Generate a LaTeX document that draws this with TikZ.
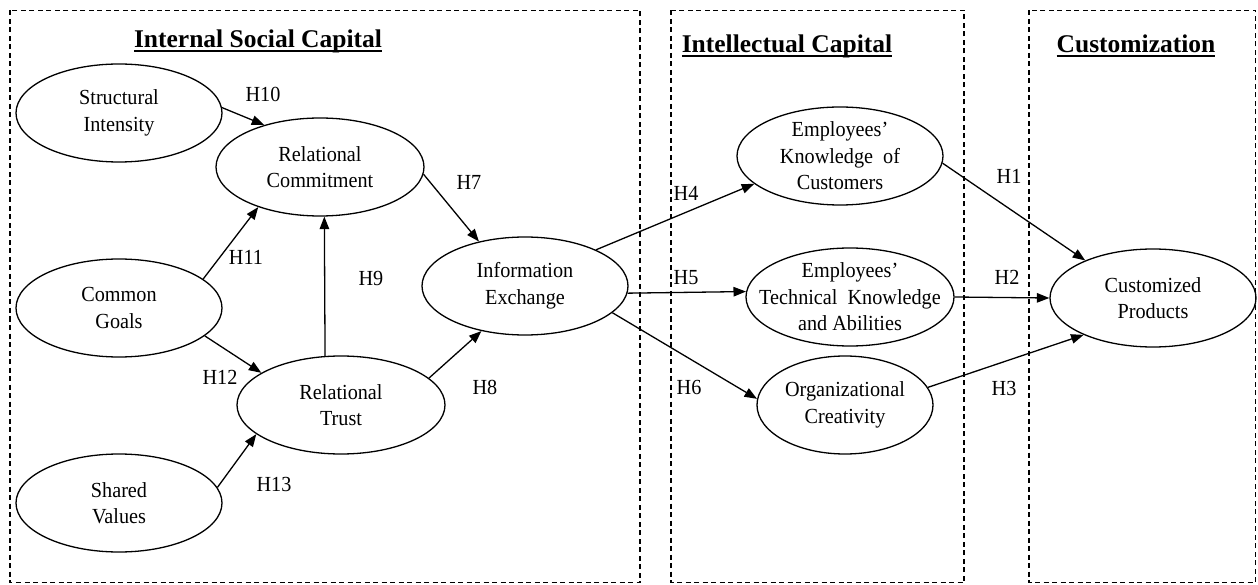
\documentclass[tikz,border=0pt]{standalone}
\usepackage{fontspec}
\setmainfont{Liberation Serif}
\newfontfamily\nf{Liberation Serif}[FakeStretch=0.94]
\usetikzlibrary{shapes.geometric,arrows.meta}
\newcommand\myul[1]{\setbox0\hbox{#1}\copy0\llap{\raisebox{-5pt}{\rule{\wd0}{2.2pt}}}}
\begin{document}
\begin{tikzpicture}[x=1pt,y=-1pt,
  ell/.style={ellipse,draw,line width=1.3pt,inner sep=0pt,minimum width=206pt,minimum height=98pt},
  lbl/.style={font=\nf\fontsize{21.5}{26.5}\selectfont,align=center,inner sep=0pt},
  hyp/.style={font=\nf\fontsize{21.5}{26.5}\selectfont,inner sep=0pt},
  arr/.style={line width=1.3pt,-{Triangle[length=12.5pt,width=9.5pt]}},
  frame/.style={draw,line width=1.2pt,dash pattern=on 5pt off 3.5pt},
  ttl/.style={font=\fontsize{25.5}{30}\selectfont\bfseries,inner sep=0pt}]
\useasboundingbox (0,0) rectangle (1258,585);
% frames
\draw[frame] (10,10.5) rectangle (640,582.5);
\draw[frame] (671,10.5) rectangle (964,582.5);
\draw[frame] (1029,10.5) rectangle (1255.5,582.5);
% titles
\node[ttl] (t1) at (258,41) {\myul{Internal Social Capital}};
\node[ttl] (t2) at (787,46) {\myul{Intellectual Capital}};
\node[ttl] (t3) at (1136,46) {\myul{Customization}};
% constructs
\node[ell,label={[lbl]center:{Structural\\Intensity}}] (si) at (119,113) {};
\node[ell,minimum width=208pt,label={[lbl]center:{Relational\\Commitment}}] (rc) at (320,167) {};
\node[ell,label={[lbl]center:{Common\\Goals}}] (cg) at (119,308) {};
\node[ell,minimum width=208pt,label={[lbl]center:{Relational\\Trust}}] (rt) at (341,405) {};
\node[ell,label={[lbl]center:{Shared\\Values}}] (sv) at (119,503) {};
\node[ell,label={[lbl]center:{Information\\Exchange}}] (ie) at (525,286) {};
\node[ell,label={[lbl]center:{Employees’\\Knowledge~ of\\Customers}}] (ek) at (840,156) {};
\node[ell,minimum width=208pt,label={[lbl]center:{Employees’\\Technical~ Knowledge\\and Abilities}}] (tk) at (850,297) {};
\node[ell,minimum width=176pt,label={[lbl]center:{Organizational\\Creativity}}] (oc) at (845,405) {};
\node[ell,label={[lbl]center:{Customized\\Products}}] (cp) at (1153,298) {};
% paths
\draw[arr] (si.3.5) -- (rc.143);
\draw[arr] (cg.19) -- (rc.213.5);
\draw[arr] (rt.108) -- (rc.275.7);
\draw[arr] (cg.342.8) -- (rt.158);
\draw[arr] (sv.9.3) -- (rt.199.3);
\draw[arr] (rc.356.7) -- (ie.136);
\draw[arr] (rt.17) -- (ie.226);
\draw[arr] (ie.27.8) -- (ek.198.4);
\draw[arr] (ie.356.6) -- (tk.177.2);
\draw[arr] (ie.343.6) -- (oc.176.7);
\draw[arr] (ek.356.1) -- (cp.151.2);
\draw[arr] (tk.-0.5) -- (cp.180);
\draw[arr] (oc.12) -- (cp.208.5);
% hypothesis labels
\node[hyp] (h10) at (263,94) {H10};
\node[hyp] (h11) at (246,257) {H11};
\node[hyp] (h9) at (371,278) {H9};
\node[hyp] (h12) at (220,377) {H12};
\node[hyp] (h13) at (274,484) {H13};
\node[hyp] (h7) at (469,182) {H7};
\node[hyp] (h8) at (485,387) {H8};
\node[hyp] (h4) at (686,193) {H4};
\node[hyp] (h5) at (686,278) {H5};
\node[hyp] (h6) at (689,387) {H6};
\node[hyp] (h1) at (1009,176) {H1};
\node[hyp] (h2) at (1007,277) {H2};
\node[hyp] (h3) at (1004,388) {H3};
\end{tikzpicture}
\end{document}
